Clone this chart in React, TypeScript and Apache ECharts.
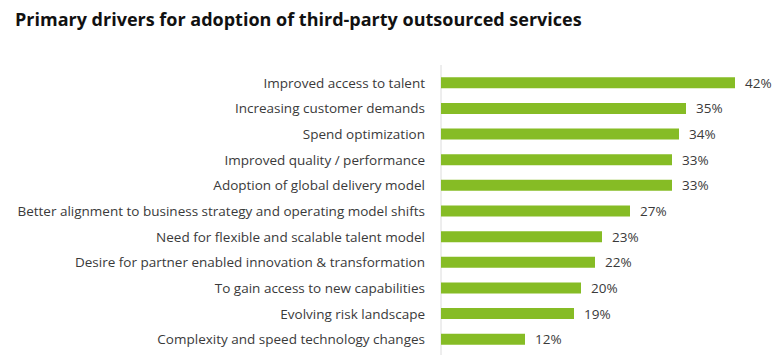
import React, { useEffect, useRef } from "react";
import * as echarts from "echarts";

const categories = [
  "Improved access to talent",
  "Increasing customer demands",
  "Spend optimization",
  "Improved quality / performance",
  "Adoption of global delivery model",
  "Better alignment to business strategy and operating model shifts",
  "Need for flexible and scalable talent model",
  "Desire for partner enabled innovation & transformation",
  "To gain access to new capabilities",
  "Evolving risk landscape",
  "Complexity and speed technology changes",
];
const values = [42, 35, 34, 33, 33, 27, 23, 22, 20, 19, 12];
const titleText = "Primary drivers for adoption of third-party outsourced services";

export default function App() {
  const ref = useRef<HTMLDivElement>(null);
  useEffect(() => {
    document.body.style.margin = "0";
    const chart = echarts.init(ref.current!, null, { renderer: "svg" });
    chart.setOption({
      animation: false,
      title: {
        text: titleText,
        left: 10,
        top: 5,
        textStyle: { fontFamily: "Open Sans", fontWeight: "bold", fontSize: 18, color: "#111" },
      },
      grid: { left: 441, top: 70, width: 315, height: 282, containLabel: false },
      xAxis: {
        type: "value",
        min: 0,
        max: 45,
        show: false,
      },
      yAxis: {
        type: "category",
        data: categories,
        inverse: true,
        axisLine: { show: false },
        axisTick: { show: false },
        axisLabel: { margin: 16, fontFamily: "Open Sans", fontSize: 13.5, color: "#3a3a3a" },
      },
      graphic: [
        { type: "line", shape: { x1: 441, y1: 65, x2: 441, y2: 355 }, style: { stroke: "#dcdcdc", lineWidth: 1 } },
      ],
      series: [
        {
          type: "bar",
          data: values,
          barWidth: 11,
          itemStyle: { color: "#86BC25" },
          label: {
            show: true,
            position: "right",
            distance: 10,
            formatter: "{c}%",
            fontFamily: "Open Sans",
            fontSize: 13.5,
            color: "#3a3a3a",
          },
        },
      ],
    });
    return () => chart.dispose();
  }, []);
  return <div ref={ref} style={{ width: 774, height: 355 }} />;
}
